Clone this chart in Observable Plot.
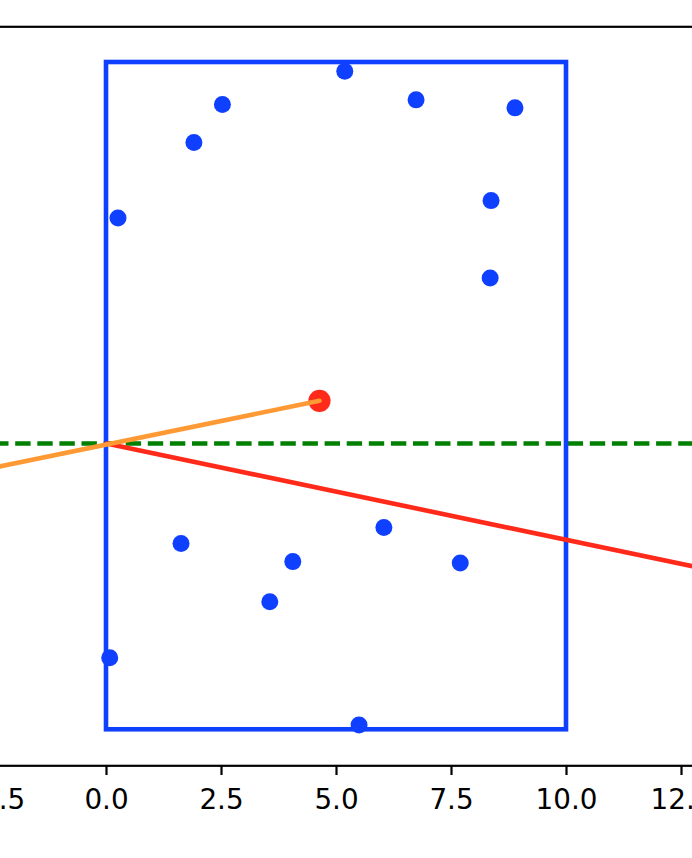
<!DOCTYPE html>
<html>
<head>
<meta charset="utf-8">
<script src="https://cdn.jsdelivr.net/npm/d3@7"></script>
<script src="https://cdn.jsdelivr.net/npm/@observablehq/plot@0.6"></script>
<style>
  html, body { margin: 0; padding: 0; background: #fff; overflow: hidden; width: 692px; height: 858px; }
  #chart { margin-left: -55px; width: 782px; }
  #chart svg { max-width: none !important; width: 782px !important; height: 858px !important; display: block; }
  #chart svg [aria-label^="x-axis"] line, #chart svg [aria-label^="x-axis"] path { stroke-width: 2.2px; }
  #chart svg text { font-size: 27.8px !important; font-family: "DejaVu Sans" !important; }
</style>
</head>
<body>
<div id="chart"></div>
<script>
// Blue scatter points
const pointX = [5.18, 2.52, 6.73, 8.88, 1.90, 0.25, 8.36, 8.34, 6.03, 1.62, 4.05, 7.69, 3.55, 0.07, 5.49];
const pointY = [9.87, 9.37, 9.44, 9.32, 8.80, 7.67, 7.93, 6.77, 3.03, 2.79, 2.52, 2.50, 1.92, 1.08, 0.07];
// Rectangle corners
const boxX = [0, 10];
const boxY = [0, 10];
// Red marker
const markerX = [4.63];
const markerY = [4.93];
// Horizontal dashed line level
const mirrorY = 4.29;
// Red (reflected) line
const redX = [0, 13.5];
const redY = [4.29, 2.34];
// Orange (incoming) line
const orangeX = [-3.5, 4.63];
const orangeY = [3.78, 4.93];
// Tick values
const xTicks = [-2.5, 0, 2.5, 5, 7.5, 10, 12.5];

const points = pointX.map((x, i) => ({x, y: pointY[i]}));
const box = [{x1: boxX[0], x2: boxX[1], y1: boxY[0], y2: boxY[1]}];
const marker = markerX.map((x, i) => ({x, y: markerY[i]}));
const red = redX.map((x, i) => ({x, y: redY[i]}));
const orange = orangeX.map((x, i) => ({x, y: orangeY[i]}));

const blue = "#1040ff";
const chart = Plot.plot({
  width: 782,
  height: 858,
  marginLeft: 0,
  marginRight: 0,
  marginTop: 26.3,
  marginBottom: 92.7,
  style: {fontFamily: "DejaVu Sans", fontSize: "27.8px", color: "black", background: "white", maxWidth: "none"},
  x: {domain: [-3.5, 13.5], ticks: xTicks, tickFormat: d3.format(".1f"), tickSize: 9.7, tickPadding: 13.5, label: null},
  y: {domain: [-0.54, 10.535], axis: null},
  marks: [
    Plot.ruleY([mirrorY], {stroke: "#008000", strokeWidth: 4.4, strokeDasharray: "15.4,6.7", strokeDashoffset: 18.2}),
    Plot.rect(box, {x1: "x1", x2: "x2", y1: "y1", y2: "y2", fill: "none", stroke: blue, strokeWidth: 4.6}),
    Plot.dot(points, {x: "x", y: "y", r: 8.5, fill: blue, stroke: "none"}),
    Plot.line(red, {x: "x", y: "y", stroke: "#ff2a1a", strokeWidth: 4.6}),
    Plot.dot(marker, {x: "x", y: "y", r: 11.1, fill: "#ff2a1a", stroke: "none"}),
    Plot.line(orange, {x: "x", y: "y", stroke: "#ff9933", strokeWidth: 4.6}),
    Plot.frame({stroke: "black", strokeWidth: 2.2})
  ]
});
document.getElementById("chart").appendChild(chart);
</script>
</body>
</html>
